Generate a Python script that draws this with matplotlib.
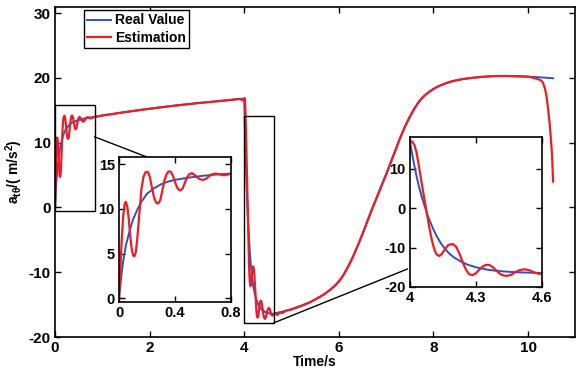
import matplotlib
matplotlib.use("Agg")
import matplotlib.pyplot as plt
from matplotlib.patches import Rectangle

plt.rcParams.update({
    "font.family": ["Liberation Sans", "DejaVu Sans"],
    "font.weight": "bold",
    "font.size": 10,
    "mathtext.fontset": "custom",
    "mathtext.rm": "Liberation Sans:bold",
    "mathtext.it": "Liberation Sans:bold",
    "mathtext.bf": "Liberation Sans:bold",
    "mathtext.default": "bf",
    "axes.linewidth": 1.2,
    "axes.unicode_minus": False,
})

BLUE = "#3350bf"
RED = "#ee1c25"

# real value
t_real = [0, 0.01, 0.02, 0.03, 0.05, 0.08, 0.10, 0.13, 0.16, 0.20, 0.25, 0.30,
          0.35, 0.40, 0.50, 0.60, 0.70, 0.80, 1.0, 1.5, 2.0, 2.5, 3.0, 3.5, 3.9,
          4.0, 4.01, 4.02, 4.03, 4.04, 4.05, 4.06, 4.08, 4.10, 4.12, 4.14, 4.16,
          4.18, 4.20, 4.23, 4.26, 4.30, 4.35, 4.40, 4.45, 4.50, 4.55, 4.60,
          4.8, 5.0, 5.2, 5.4, 5.6, 5.7, 5.8, 5.9, 6.0, 6.1, 6.2, 6.3, 6.4, 6.5,
          6.6, 6.7, 6.8, 6.9, 7.0, 7.1, 7.2, 7.3, 7.4, 7.5, 7.6, 7.7, 7.8, 7.9,
          8.0, 8.1, 8.25, 8.4, 8.6, 8.8, 9.0, 9.3, 9.6, 10.0, 10.25, 10.53]
v_real = [0, 1.6, 3.0, 4.2, 6.0, 7.8, 8.8, 9.9, 10.8, 11.7, 12.3, 12.75,
          13.05, 13.25, 13.5, 13.7, 13.85, 13.95, 14.2, 14.75, 15.25, 15.7, 16.1, 16.45, 16.75,
          16.8, 13.6, 10.7, 8.0, 5.6, 3.5, 1.6, -1.8, -4.6, -7.0, -8.9, -10.4,
          -11.6, -12.5, -13.5, -14.3, -15.0, -15.6, -15.95, -16.15, -16.3, -16.38, -16.42,
          -16.1, -15.7, -15.2, -14.6, -13.8, -13.35, -12.8, -12.2, -11.45, -10.4, -9.1, -7.6, -5.9, -4.1,
          -2.2, -0.3, 1.5, 3.3, 5.1, 7.0, 8.9, 10.8, 12.5, 14.0, 15.3, 16.4, 17.2, 17.8,
          18.3, 18.7, 19.15, 19.5, 19.8, 20.0, 20.15, 20.3, 20.3, 20.2, 20.1, 19.95]

# estimation
t_est = [0, 0.01, 0.02, 0.03, 0.04, 0.048, 0.06, 0.07, 0.08, 0.09, 0.10, 0.11,
         0.12, 0.13, 0.14, 0.15, 0.16, 0.175, 0.19, 0.205, 0.22, 0.235, 0.25, 0.265,
         0.28, 0.295, 0.31, 0.325, 0.34, 0.355, 0.37, 0.385, 0.40, 0.415, 0.43, 0.44,
         0.455, 0.47, 0.485, 0.50, 0.52, 0.54, 0.56, 0.58, 0.60, 0.62, 0.64, 0.66,
         0.69, 0.72, 0.75, 0.78, 0.80, 1.0, 1.5, 2.0, 2.5, 3.0, 3.5, 3.9,
         4.0, 4.01, 4.02, 4.03, 4.04, 4.05, 4.06, 4.07, 4.08, 4.09, 4.10, 4.11, 4.12,
         4.133, 4.145, 4.16, 4.175, 4.194, 4.21, 4.225, 4.24, 4.255, 4.27, 4.285, 4.30,
         4.315, 4.33, 4.345, 4.36, 4.375, 4.39, 4.405, 4.42, 4.44, 4.46, 4.48, 4.50,
         4.52, 4.54, 4.56, 4.58, 4.60, 4.65, 4.70, 4.75, 4.8, 4.9, 5.0,
         5.2, 5.4, 5.6, 5.7, 5.8, 5.9, 6.0, 6.1, 6.2, 6.3, 6.4, 6.5,
         6.6, 6.7, 6.8, 6.9, 7.0, 7.1, 7.2, 7.3, 7.4, 7.5, 7.6, 7.7, 7.8, 7.9,
         8.0, 8.1, 8.25, 8.4, 8.6, 8.8, 9.0, 9.3, 9.6, 10.0, 10.1, 10.2, 10.28,
         10.32, 10.36, 10.39, 10.42, 10.46, 10.49, 10.51, 10.53]
v_est = [0, 3.5, 6.8, 9.2, 10.5, 10.8, 10.2, 8.8, 7.0, 5.6, 4.8, 4.7,
         5.2, 6.6, 8.5, 10.5, 12.2, 13.6, 14.1, 14.15, 13.6, 12.4, 11.3, 10.7,
         10.6, 11.0, 12.1, 13.2, 13.9, 14.2, 14.15, 13.7, 13.0, 12.4, 12.1, 12.07,
         12.3, 12.9, 13.5, 13.85, 14.0, 13.8, 13.5, 13.3, 13.25, 13.35, 13.6, 13.85,
         13.95, 13.85, 13.75, 13.85, 13.9, 14.2, 14.75, 15.25, 15.7, 16.1, 16.45, 16.75,
         16.5, 16.9, 16.0, 14.0, 10.8, 7.3, 4.0, 0.8, -2.5, -5.6, -8.3, -10.4, -11.7,
         -12.15, -11.6, -10.3, -9.3, -9.1, -9.8, -11.6, -13.8, -15.7, -16.8, -17.0, -16.5,
         -15.6, -14.8, -14.4, -14.4, -14.9, -15.7, -16.5, -17.0, -17.2, -16.9, -16.2, -15.7,
         -15.5, -15.7, -16.2, -16.6, -16.7, -16.3, -16.6, -16.2, -16.3, -15.9, -15.75,
         -15.2, -14.6, -13.8, -13.35, -12.8, -12.2, -11.45, -10.4, -9.1, -7.6, -5.9, -4.1,
         -2.2, -0.3, 1.5, 3.3, 5.1, 7.0, 8.9, 10.8, 12.5, 14.0, 15.3, 16.4, 17.2, 17.8,
         18.3, 18.7, 19.15, 19.5, 19.8, 20.0, 20.15, 20.3, 20.3, 20.2, 20.05, 19.85, 19.6,
         19.2, 18.3, 17.2, 15.5, 12.8, 10.0, 7.8, 4.0]


def style_axes(ax, size):
    ax.tick_params(direction="in", top=True, right=True, length=4, width=1,
                   labelsize=size, pad=3)
    for lab in ax.get_xticklabels() + ax.get_yticklabels():
        lab.set_fontweight("bold")


def draw_curves(ax):
    ax.plot(t_real, v_real, color=BLUE, lw=1.4, label="Real Value")
    ax.plot(t_est, v_est, color=RED, lw=1.6, label="Estimation")


fig = plt.figure(figsize=(5.82, 3.72), dpi=100)
ax = fig.add_axes([0.0945, 0.094, 0.894, 0.888])
draw_curves(ax)
ax.set_xlim(0, 11)
ax.set_ylim(-20, 31)
ax.set_xticks([0, 2, 4, 6, 8, 10])
ax.set_yticks([-20, -10, 0, 10, 20, 30])
style_axes(ax, 11)
ax.set_xlabel("Time/s", fontweight="bold", fontsize=10, labelpad=0)
ax.set_ylabel(r"a$_{t\theta}$/( m/s$^2$)", fontweight="bold", fontsize=10, labelpad=3)

leg = ax.legend(loc="upper left", bbox_to_anchor=(0.055, 0.99), borderaxespad=0,
                fancybox=False, edgecolor="black", framealpha=1,
                handlelength=1.7, handletextpad=0.3, labelspacing=0.25,
                borderpad=0.25, prop={"weight": "bold", "size": 10})
leg.get_frame().set_linewidth(1.0)

# zoom boxes and connectors
ax.add_patch(Rectangle((0, -0.6), 0.84, 16.45, fill=False, ec="black", lw=1.0, zorder=5))
ax.add_patch(Rectangle((4.0, -17.8), 0.63, 31.95, fill=False, ec="black", lw=1.0, zorder=5))
ax.plot([0.84, 1.94], [10.9, 7.8], color="black", lw=1.0)
ax.plot([4.63, 7.45], [-17.8, -9.5], color="black", lw=1.0)

# inset 1
ax1 = fig.add_axes([0.2045, 0.188, 0.1924, 0.390])
draw_curves(ax1)
ax1.set_xlim(0, 0.8)
ax1.set_ylim(-0.4, 15.8)
ax1.set_xticks([0, 0.4, 0.8])
ax1.set_xticklabels(["0", "0.4", "0.8"])
ax1.set_yticks([0, 5, 10, 15])
style_axes(ax1, 10.5)

# inset 2
ax2 = fig.add_axes([0.7045, 0.2285, 0.2268, 0.403])
draw_curves(ax2)
ax2.set_xlim(4, 4.6)
ax2.set_ylim(-20, 18)
ax2.set_xticks([4, 4.3, 4.6])
ax2.set_xticklabels(["4", "4.3", "4.6"])
ax2.set_yticks([-20, -10, 0, 10])
style_axes(ax2, 10.5)

fig.savefig("out.png", dpi=100, facecolor="white")
